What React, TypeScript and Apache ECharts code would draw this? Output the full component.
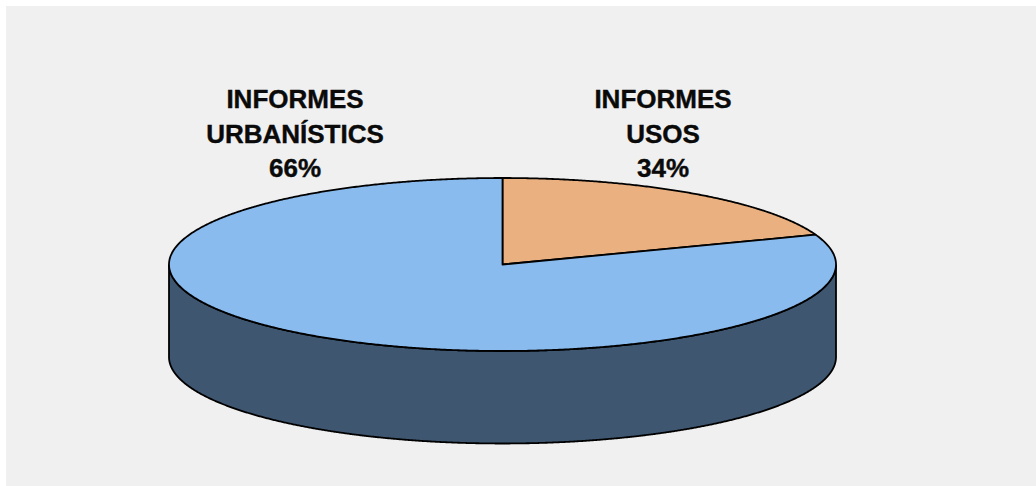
import React, { useEffect, useRef } from "react";
import * as echarts from "echarts";

// Slices, clockwise from 12 o'clock
const categories = ["INFORMES\nUSOS", "INFORMES\nURBANÍSTICS"];
const printedPercents = [34, 66]; // as printed in the labels
const drawnShares = [19.4, 80.6]; // as read from the drawn wedge
const topColors = ["#ebb07f", "#8abbef"];
const wallColors = ["#6f5a48", "#3e5670"];

const STROKE = "#000000";
const DEPTH = 92.5 / 86.5; // wall height, in y-axis units

function renderSlice(params: any, api: any) {
  const i = params.dataIndex;
  const start = api.value(0) as number;
  const end = api.value(1) as number;
  const steps = Math.max(8, Math.round((end - start) * 3));
  const pt = (deg: number, drop = 0) => {
    const r = (deg * Math.PI) / 180;
    return api.coord([Math.sin(r), Math.cos(r) - drop]);
  };
  const arc = (a: number, b: number, drop = 0) => {
    const out: number[][] = [];
    for (let k = 0; k <= steps; k++) out.push(pt(a + ((b - a) * k) / steps, drop));
    return out;
  };
  const children: any[] = [];
  const wa = Math.max(start, 90);
  const wb = Math.min(end, 270);
  if (wb > wa) {
    children.push({
      type: "polygon",
      shape: { points: [...arc(wa, wb), ...arc(wb, wa, DEPTH)] },
      style: { fill: wallColors[i], stroke: STROKE, lineWidth: 1.8 },
    });
  }
  children.push({
    type: "polygon",
    shape: { points: [api.coord([0, 0]), ...arc(start, end)] },
    style: { fill: topColors[i], stroke: STROKE, lineWidth: 1.8, lineJoin: "round" },
  });
  return { type: "group", children };
}

export default function App() {
  const ref = useRef<HTMLDivElement>(null);
  useEffect(() => {
    document.body.style.margin = "0";
    const chart = echarts.init(ref.current!, null, { renderer: "svg" });
    let acc = 0;
    const rows = drawnShares.map((s) => {
      const from = (acc / 100) * 360;
      acc += s;
      return [from, (acc / 100) * 360];
    });
    const labelStyle = {
      fontFamily: "'Liberation Sans', Arial, sans-serif",
      fontWeight: "bold",
      fontSize: 26,
      lineHeight: 34.5,
      fill: "#0a0a0a",
      stroke: "#0a0a0a",
      lineWidth: 0.4,
      textAlign: "center",
      textVerticalAlign: "middle",
    };
    const labelText = (i: number) => `${categories[i]}\n${printedPercents[i]}%`;
    chart.setOption({
      animation: false,
      backgroundColor: "#ffffff",
      grid: { left: 169, top: 178, width: 667, height: 173 },
      xAxis: { type: "value", min: -1, max: 1, show: false },
      yAxis: { type: "value", min: -1, max: 1, show: false },
      graphic: [
        { type: "rect", z: -10, shape: { x: 6, y: 6, width: 1030, height: 480 }, style: { fill: "#f0f0f0" } },
        { type: "text", x: 663, y: 133.5, style: { ...labelStyle, text: labelText(0) } },
        { type: "text", x: 295, y: 133.5, style: { ...labelStyle, text: labelText(1) } },
      ],
      series: [
        {
          type: "custom",
          coordinateSystem: "cartesian2d",
          renderItem: renderSlice,
          encode: { x: 0, y: 1 },
          data: rows,
          clip: false,
          silent: true,
        },
      ],
    });
    return () => chart.dispose();
  }, []);
  return <div ref={ref} style={{ width: 1036, height: 486 }} />;
}
